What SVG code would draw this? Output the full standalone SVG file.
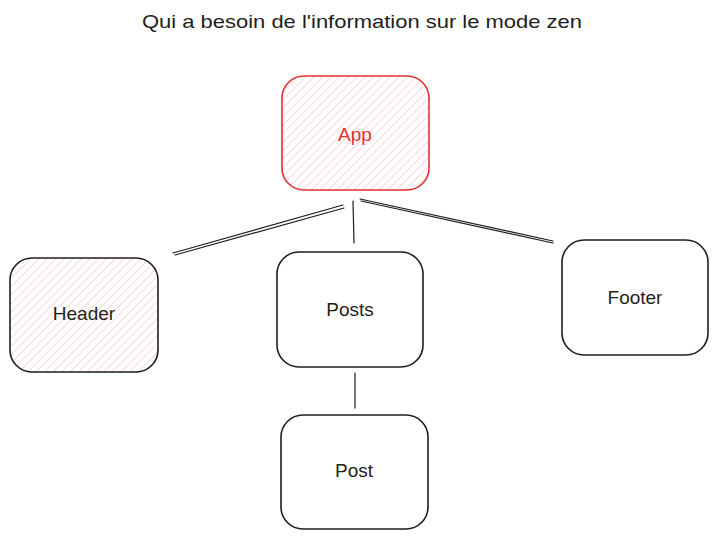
<svg xmlns="http://www.w3.org/2000/svg" width="718" height="539" viewBox="0 0 718 539">
<defs>
<pattern id="hatch" width="6" height="6" patternUnits="userSpaceOnUse" patternTransform="rotate(45)">
<rect width="6" height="6" fill="#ffffff"/>
<line x1="0" y1="0" x2="0" y2="6" stroke="#ffc9c9" stroke-width="1.5"/>
</pattern>
<style>
.box{fill:#ffffff;stroke:#1e1e1e;stroke-width:1.6}
.hatched{fill:url(#hatch)}
.red{stroke:#e03131}
.lbl{font-family:"Liberation Sans",Arial,sans-serif;font-size:19px;fill:#1e1e1e;text-anchor:middle;dominant-baseline:central}
.conn line{stroke:#1e1e1e;stroke-width:1.2;stroke-linecap:round}
</style>
</defs>
<rect width="718" height="539" fill="#ffffff"/>
<text x="362" y="21" class="lbl" font-size="18" textLength="440" lengthAdjust="spacingAndGlyphs">Qui a besoin de l'information sur le mode zen</text>
<g id="connectors" class="conn">
<line x1="343" y1="205" x2="173" y2="253"/>
<line x1="344" y1="208" x2="175" y2="255"/>
<line x1="353" y1="201" x2="354" y2="243"/>
<line x1="360" y1="199" x2="553" y2="241"/>
<line x1="361" y1="201" x2="553" y2="243"/>
<line x1="355" y1="373" x2="355" y2="408"/>
</g>
<g id="app">
<rect x="282" y="76" width="147" height="114" rx="22" class="box hatched red"/>
<text x="355" y="134" class="lbl" style="fill:#e03131">App</text>
</g>
<g id="header">
<rect x="10" y="258" width="148" height="114" rx="22" class="box hatched"/>
<text x="84" y="313" class="lbl">Header</text>
</g>
<g id="posts">
<rect x="277" y="252" width="146" height="115" rx="22" class="box"/>
<text x="350" y="309" class="lbl">Posts</text>
</g>
<g id="footer">
<rect x="562" y="240" width="146" height="115" rx="22" class="box"/>
<text x="635" y="297" class="lbl">Footer</text>
</g>
<g id="post">
<rect x="281" y="415" width="147" height="114" rx="22" class="box"/>
<text x="354" y="470" class="lbl">Post</text>
</g>
</svg>
